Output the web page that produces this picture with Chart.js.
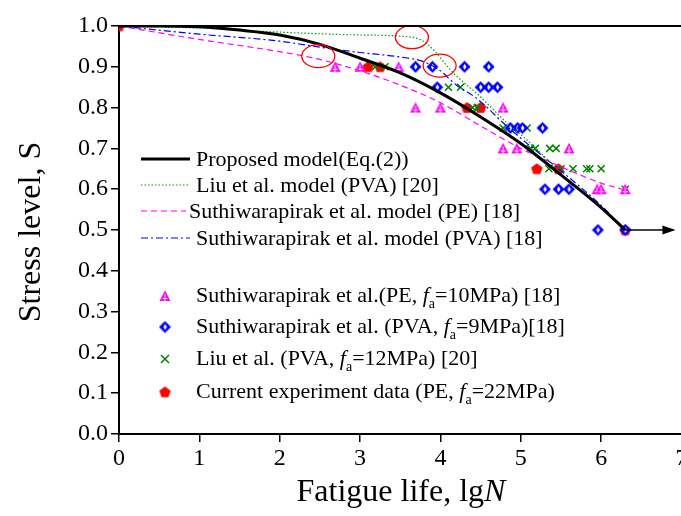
<!DOCTYPE html>
<html><head><meta charset="utf-8">
<script src="https://cdn.jsdelivr.net/npm/chart.js@4.4.1/dist/chart.umd.min.js"></script>
<style>
html,body{margin:0;padding:0;overflow:hidden;background:#fff;}
#wrap{position:absolute;left:0;top:0;width:700px;height:516px;}
</style></head>
<body><div id="wrap"><canvas id="c" width="700" height="516"></canvas></div>
<script>
// ---------- data ----------
const xTicks = [0,1,2,3,4,5,6,7];
const yTicks = [0,0.1,0.2,0.3,0.4,0.5,0.6,0.7,0.8,0.9,1.0];

const proposedX = [0,0.5,1,1.5,2,2.5,3,3.5,4,4.5,5,5.5,6,6.3];
const proposedY = [1.0,1.0,0.998,0.99,0.978,0.955,0.921,0.885,0.836,0.777,0.712,0.635,0.555,0.5];
const arrowX = [6.3,6.9];
const arrowY = [0.5,0.5];

const liuModelX = [0,1,2,3,3.66,3.84,4.16,4.5,4.83,5.08,5.5];
const liuModelY = [1.0,0.995,0.985,0.978,0.972,0.955,0.885,0.826,0.762,0.72,0.64];

const suthiPEModelX = [0,1,2,2.5,3,3.5,4,4.5,5,5.5,6,6.3];
const suthiPEModelY = [1.0,0.967,0.937,0.918,0.89,0.855,0.812,0.755,0.70,0.655,0.615,0.598];

const suthiPVAModelX = [0,1,2,2.5,3,3.5,3.8,4.0,4.2,4.4,4.6,4.75,5,5.5,6,6.3];
const suthiPVAModelY = [1.0,0.98,0.963,0.948,0.935,0.924,0.912,0.89,0.855,0.83,0.797,0.768,0.725,0.645,0.56,0.5];

const pePointsX = [2.69,3.0,3.48, 3.69,4.0,4.78, 4.78,4.95,5.6, 5.95,6.0,6.3];
const pePointsY = [0.9,0.9,0.9, 0.8,0.8,0.8, 0.7,0.7,0.7, 0.6,0.6,0.6];

const pvaPointsX = [3.69,3.9,4.3,4.6, 3.96,4.5,4.6,4.71, 4.87,4.96,5.02,5.27, 5.3,5.47,5.6, 5.96,6.3];
const pvaPointsY = [0.9,0.9,0.9,0.9, 0.85,0.85,0.85,0.85, 0.75,0.75,0.75,0.75, 0.6,0.6,0.6, 0.5,0.5];

const liuPointsX = [3.19,3.31, 4.1,4.25, 4.4,4.46, 4.78,5.08, 5.12,5.18,5.36,5.44, 5.35,5.5,5.65,5.82,5.86,6.0, 6.3];
const liuPointsY = [0.9,0.9, 0.85,0.85, 0.8,0.8, 0.75,0.75, 0.7,0.7,0.7,0.7, 0.65,0.65,0.65,0.65,0.65,0.65, 0.6];

const curPointsX = [0, 3.1,3.25, 4.33,4.5, 5.2,5.47, 6.3];
const curPointsY = [1.0, 0.9,0.9, 0.8,0.8, 0.65,0.65, 0.5];

const circleX = [2.48,3.645,3.99];
const circleY = [0.926,0.9725,0.903];

const lineLabels = ['Proposed model(Eq.(2))','Liu et al. model (PVA) [20]','Suthiwarapirak et al. model (PE) [18]','Suthiwarapirak et al. model (PVA) [18]'];
const markerLabels = [
  ['Suthiwarapirak et al.(PE, ','=10MPa) [18]'],
  ['Suthiwarapirak et al. (PVA, ','=9MPa)[18]'],
  ['Liu et al. (PVA, ','=12MPa) [20]'],
  ['Current experiment data (PE, ','=22MPa)']
];
const xTitle = ['Fatigue life, lg','N'];
const yTitle = 'Stress level, S';

// ---------- helpers ----------
const FONT = '"Liberation Serif","Times New Roman",serif';
const pts = (xs,ys)=>xs.map((v,i)=>({x:v,y:ys[i]}));
function mk(w,h,fn){const c=document.createElement('canvas');c.width=w;c.height=h;fn(c.getContext('2d'));return c;}
const triImg = mk(12,12,g=>{g.fillStyle='#ff00ff';g.beginPath();g.moveTo(6,0.5);g.lineTo(11.5,11);g.lineTo(0.5,11);g.closePath();g.fill();
  g.strokeStyle='rgba(255,255,255,0.85)';g.lineWidth=1;g.beginPath();g.moveTo(6,4);g.lineTo(6,11);g.moveTo(3.5,8.5);g.lineTo(8.5,8.5);g.stroke();});
const diaImg = mk(13,13,g=>{g.fillStyle='#0000ff';g.beginPath();g.moveTo(6.5,0.5);g.lineTo(12.5,6.5);g.lineTo(6.5,12.5);g.lineTo(0.5,6.5);g.closePath();g.fill();
  g.fillStyle='#fff';g.beginPath();g.moveTo(6.5,3.5);g.lineTo(8.5,6.5);g.lineTo(6.5,9.5);g.lineTo(5,6.5);g.closePath();g.fill();});
const penImg = mk(13,13,g=>{g.fillStyle='#ff0000';g.beginPath();for(let k=0;k<5;k++){const a=-Math.PI/2+k*2*Math.PI/5;const px=6.5+6*Math.cos(a),py=7+6*Math.sin(a);k?g.lineTo(px,py):g.moveTo(px,py);}g.closePath();g.fill();});

function lineDS(xs,ys,color,width,dash,order){
  return {type:'line',data:pts(xs,ys),borderColor:color,borderWidth:width,borderDash:dash,pointRadius:0,fill:false,
    cubicInterpolationMode:'monotone',tension:0.4,order:order};
}
function ptDS(xs,ys,style,extra){
  return Object.assign({type:'scatter',data:pts(xs,ys),pointStyle:style,pointRadius:6,showLine:false,order:5},extra||{});
}

const deco = {
  id:'deco',
  afterDatasetsDraw(chart){
    const {ctx,scales:{x,y}} = chart;
    ctx.save();
    ctx.strokeStyle='#ff0000';ctx.lineWidth=1.3;
    circleX.forEach((cx,i)=>{ctx.beginPath();ctx.ellipse(x.getPixelForValue(cx),y.getPixelForValue(circleY[i]),16.5,11.5,0,0,2*Math.PI);ctx.stroke();});
    const n=arrowX.length-1;const ax=x.getPixelForValue(arrowX[n]),ay=y.getPixelForValue(arrowY[n]);
    ctx.fillStyle='#000';ctx.beginPath();ctx.moveTo(ax+2,ay);ctx.lineTo(ax-11,ay-4.5);ctx.lineTo(ax-11,ay+4.5);ctx.closePath();ctx.fill();
    ctx.restore();
  },
  afterDraw(chart){
    const {ctx,chartArea:a} = chart;
    ctx.save();
    // top frame
    ctx.strokeStyle='#000';ctx.lineWidth=2;ctx.beginPath();ctx.moveTo(a.left-1,a.top);ctx.lineTo(a.right+20,a.top);ctx.stroke();
    // legend lines
    const ls=[{c:'#000',w:3,d:[]},{c:'#00a000',w:1.2,d:[1.5,2]},{c:'#ff00ff',w:1.2,d:[6,4]},{c:'#0000ff',w:1.2,d:[7,3,2,3]}];
    const rowY=[159,185,211,238];
    ctx.fillStyle='#000';ctx.font='22px '+FONT;ctx.textBaseline='middle';ctx.textAlign='left';
    ls.forEach((s,i)=>{
      ctx.strokeStyle=s.c;ctx.lineWidth=s.w;ctx.setLineDash(s.d);ctx.beginPath();ctx.moveTo(141,rowY[i]);ctx.lineTo(i==2?186:190,rowY[i]);ctx.stroke();
      ctx.setLineDash([]);
      ctx.fillText(lineLabels[i],i==2?189:196,rowY[i]+1);
    });
    // legend markers
    const mY=[296,327,359,392];
    const imgs=[triImg,diaImg,null,penImg];
    mY.forEach((yy,i)=>{
      if(imgs[i]){ctx.drawImage(imgs[i],165-imgs[i].width/2,yy-imgs[i].height/2);}
      else{ctx.strokeStyle='#008000';ctx.lineWidth=1.5;ctx.beginPath();ctx.moveTo(161,yy-4);ctx.lineTo(169,yy+4);ctx.moveTo(169,yy-4);ctx.lineTo(161,yy+4);ctx.stroke();}
      let xx=196;
      ctx.font='22px '+FONT;ctx.fillText(markerLabels[i][0],xx,yy);xx+=ctx.measureText(markerLabels[i][0]).width;
      ctx.font='italic 22px '+FONT;ctx.fillText('f',xx,yy);xx+=ctx.measureText('f').width;
      ctx.font='14px '+FONT;ctx.fillText('a',xx,yy+8);xx+=ctx.measureText('a').width;
      ctx.font='22px '+FONT;ctx.fillText(markerLabels[i][1],xx,yy);
    });
    // x title
    ctx.textBaseline='alphabetic';
    ctx.font='32px '+FONT;const w1=ctx.measureText(xTitle[0]).width;
    ctx.font='italic 32px '+FONT;const w2=ctx.measureText(xTitle[1]).width;
    let sx=401-(w1+w2)/2;
    ctx.font='32px '+FONT;ctx.fillText(xTitle[0],sx,501);
    ctx.font='italic 32px '+FONT;ctx.fillText(xTitle[1],sx+w1,501);
    // y title
    ctx.translate(40,232);ctx.rotate(-Math.PI/2);ctx.textAlign='center';ctx.font='32px '+FONT;ctx.fillText(yTitle,0,0);
    ctx.restore();
  }
};

new Chart(document.getElementById('c'),{
  data:{datasets:[
    lineDS(proposedX,proposedY,'#000',3,[],0),
    {type:'line',data:pts(arrowX,arrowY),borderColor:'#000',borderWidth:1.5,pointRadius:0,fill:false,order:0},
    lineDS(liuModelX,liuModelY,'#00a000',1.2,[1.5,2],1),
    lineDS(suthiPEModelX,suthiPEModelY,'#ff00ff',1.2,[6,4],1),
    lineDS(suthiPVAModelX,suthiPVAModelY,'#0000ff',1.2,[7,3,2,3],1),
    ptDS(pePointsX,pePointsY,triImg),
    ptDS(pvaPointsX,pvaPointsY,diaImg),
    ptDS(liuPointsX,liuPointsY,'crossRot',{borderColor:'#008000',borderWidth:1.5,pointRadius:5}),
    ptDS(curPointsX,curPointsY,penImg)
  ]},
  options:{
    responsive:false,animation:false,devicePixelRatio:1,
    layout:{padding:{top:26,right:18.5,left:0,bottom:0}},
    plugins:{legend:{display:false},tooltip:{enabled:false}},
    scales:{
      x:{type:'linear',min:0,max:7,position:'bottom',
        afterBuildTicks:s=>{s.ticks=xTicks.map(v=>({value:v}));},
        afterFit:s=>{s.height=82;},
        ticks:{font:{family:FONT,size:24},color:'#000',padding:2,maxRotation:0,callback:v=>String(v)},
        grid:{drawOnChartArea:false,drawTicks:true,tickLength:8,color:'#000',lineWidth:1.5},
        border:{display:true,color:'#000',width:2}},
      y:{type:'linear',min:0,max:1,
        afterBuildTicks:s=>{s.ticks=yTicks.map(v=>({value:v}));},
        afterFit:s=>{s.width=119;},
        ticks:{font:{family:FONT,size:24},color:'#000',padding:3,callback:v=>Number(v).toFixed(1)},
        grid:{drawOnChartArea:false,drawTicks:true,tickLength:8,color:'#000',lineWidth:1.5},
        border:{display:true,color:'#000',width:2}}
    }
  },
  plugins:[deco]
});
</script></body></html>
